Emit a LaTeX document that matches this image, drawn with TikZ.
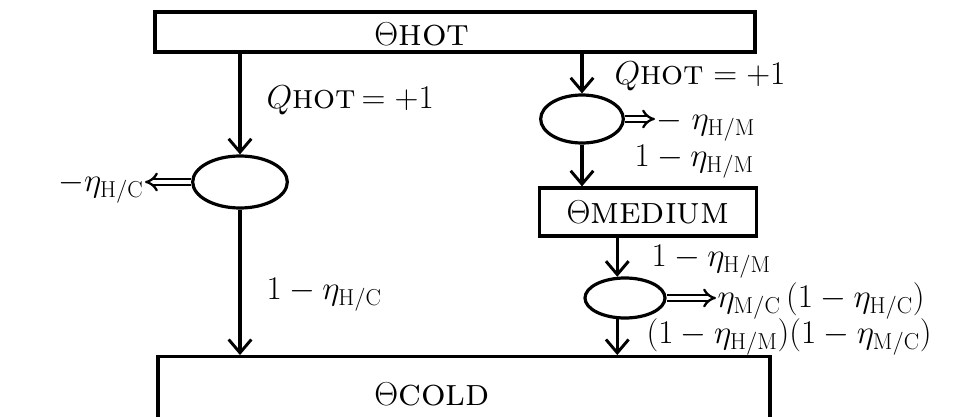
\documentclass[tikz,border=0pt]{standalone}
\usetikzlibrary{arrows.meta,shapes.geometric}
\begin{document}
\begin{tikzpicture}[x=0.75pt,y=-0.75pt,
  line width=2.4pt,
  every node/.style={font=\fontsize{26}{30}\selectfont},
  bigname/.style={font=\fontsize{29}{33}\selectfont},
  flow/.style={-{Straight Barb[length=10pt,width=17pt,line width=2.2pt]}},
  work/.style={double, line width=1.7pt, double distance=3pt, -{Implies}},
  reservoir/.style={draw, rectangle, inner sep=0pt},
  engine/.style={draw, ellipse, inner sep=0pt},
  lbl/.style={anchor=west, inner sep=0pt}]
\useasboundingbox (0,0) rectangle (963,417);
\clip (0,0) rectangle (963,417);

% heat reservoirs
\node[reservoir, minimum width=450pt, minimum height=30pt] (hot) at (455,32) {};
\node[bigname] (hotT) at (422,34) {$\Theta$\textsc{hot}};
\node[reservoir, minimum width=163pt, minimum height=36pt, bigname] (medium) at (648,212) {$\Theta$\textsc{medium}};
\node[reservoir, minimum width=459pt, minimum height=62pt] (cold) at (464,398) {};
\node[bigname] (coldT) at (432,394) {$\Theta$\textsc{cold}};

% engines
\node[engine, minimum width=71pt, minimum height=39pt] (eL) at (240,182) {};
\node[engine, minimum width=62pt, minimum height=36pt] (eA) at (582,119) {};
\node[engine, minimum width=60pt, minimum height=30pt] (eB) at (625,298) {};

% heat flows
\draw[flow] (hot.south -| eL.north) -- (eL.north);
\draw[flow] (eL.south) -- (eL.south |- cold.north);
\draw[flow] (hot.south -| eA.north) -- (eA.north);
\draw[flow] (eA.south) -- (eA.south |- medium.north);
\draw[flow] (medium.south -| eB.110) -- (eB.110);
\draw[flow] (eB.250) -- (eB.250 |- cold.north);

% flow labels
\node[lbl] (qL) at (265,100) {$Q$\textsc{hot}$\,=+1$};
\node[lbl] (rL) at (265,295) {$1-\eta_{\mathrm{H/C}}$};
\node[lbl] (qA) at (613,76) {$Q$\textsc{hot}$\;=+1$};
\node[lbl] (rA) at (633,162) {$1-\eta_{\mathrm{H/M}}$};
\node[lbl] (rB) at (650,262) {$1-\eta_{\mathrm{H/M}}$};
\node[lbl] (rC) at (645,337) {$(1-\eta_{\mathrm{H/M}})(1-\eta_{\mathrm{M/C}})$};

% work outputs
\node[anchor=east, inner sep=0pt] (wL) at (145,188) {$-\eta_{\mathrm{H/C}}$};
\node[lbl] (wA) at (655,126) {$-\;\eta_{\mathrm{H/M}}$};
\node[lbl] (wB) at (716,301) {$\eta_{\mathrm{M/C}}\,(1-\eta_{\mathrm{H/C}})$};
\draw[work] (eL.west) -- (eL.west -| wL.east);
\draw[work] (eA.east) -- (eA.east -| wA.west);
\draw[work] (eB.east) -- (eB.east -| wB.west);
\end{tikzpicture}
\end{document}
